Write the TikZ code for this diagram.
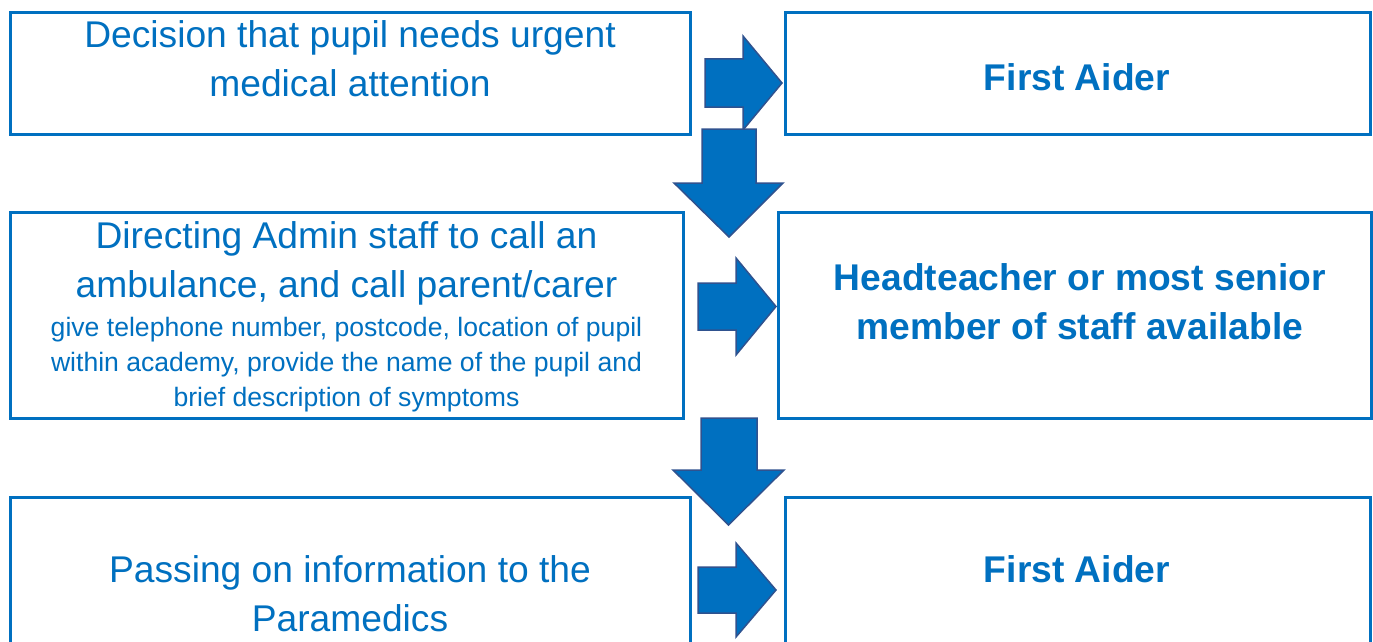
\documentclass[tikz,border=0pt]{standalone}
\usepackage{fontspec}
\setmainfont{Liberation Sans}
\definecolor{boxblue}{HTML}{0070C0}
\definecolor{arrowedge}{HTML}{2F528F}
\tikzset{
  box/.style={draw=boxblue, line width=3pt, inner sep=0pt, outer sep=0pt, fill=white},
  bigtxt/.style={text=boxblue, inner sep=0pt, align=center, font=\fontsize{37.2}{49.2}\selectfont, anchor=base},
  boldtxt/.style={bigtxt, font=\fontsize{37.2}{49.2}\selectfont\bfseries},
  smalltxt/.style={text=boxblue, inner sep=0pt, align=center, font=\fontsize{26.6}{35}\selectfont, anchor=base},
  arr/.style={fill=boxblue, draw=arrowedge, line width=1.5pt, line join=miter}
}
\begin{document}
\begin{tikzpicture}[x=1pt,y=-1pt]
\useasboundingbox (0,0) rectangle (1373,642);
% boxes
\node[box, minimum width=680pt, minimum height=121pt] (b1) at (350,73.5) {};
\node[box, minimum width=585pt, minimum height=121pt] (b2) at (1077.5,73.5) {};
\node[box, minimum width=673pt, minimum height=206pt] (b3) at (346.5,315) {};
\node[box, minimum width=593pt, minimum height=206pt] (b4) at (1074.5,315) {};
\node[box, minimum width=680pt, minimum height=183pt] (b5) at (350,588.5) {};
\node[box, minimum width=585pt, minimum height=183pt] (b6) at (1077.5,588.5) {};
% texts (base anchor = baseline of last line)
\node[bigtxt] (t1) at (350,96.2) {Decision that pupil needs urgent\\medical attention};
\node[boldtxt] (t2) at (1077,90) {First Aider};
\node[bigtxt] (t3) at (346.5,297.2) {Directing Admin staff to call an\\ambulance, and call parent/carer};
\node[smalltxt] (t3s) at (346.5,406.7) {give telephone number, postcode, location of pupil\\within academy, provide the name of the pupil and\\brief description of symptoms};
\node[boldtxt] (t4) at (1080,339.2) {Headteacher or most senior\\member of staff available};
\node[bigtxt] (t5) at (350,631.2) {Passing on information to the\\Paramedics};
\node[boldtxt] (t6) at (1077,582.3) {First Aider};
% arrows
\draw[arr] (705,59)--(743,59)--(743,36)--(782,83)--(743,130)--(743,107)--(705,107)--cycle;
\draw[arr] (702,129)--(756,129)--(756,183)--(783,183)--(729,237)--(674,183)--(702,183)--cycle;
\draw[arr] (698,283)--(736,283)--(736,258)--(776,306.5)--(736,355)--(736,330)--(698,330)--cycle;
\draw[arr] (701,418)--(757,418)--(757,470)--(784,470)--(728.5,525)--(673,470)--(701,470)--cycle;
\draw[arr] (698,567)--(736,567)--(736,543)--(776,590)--(736,637)--(736,613)--(698,613)--cycle;
\end{tikzpicture}
\end{document}
